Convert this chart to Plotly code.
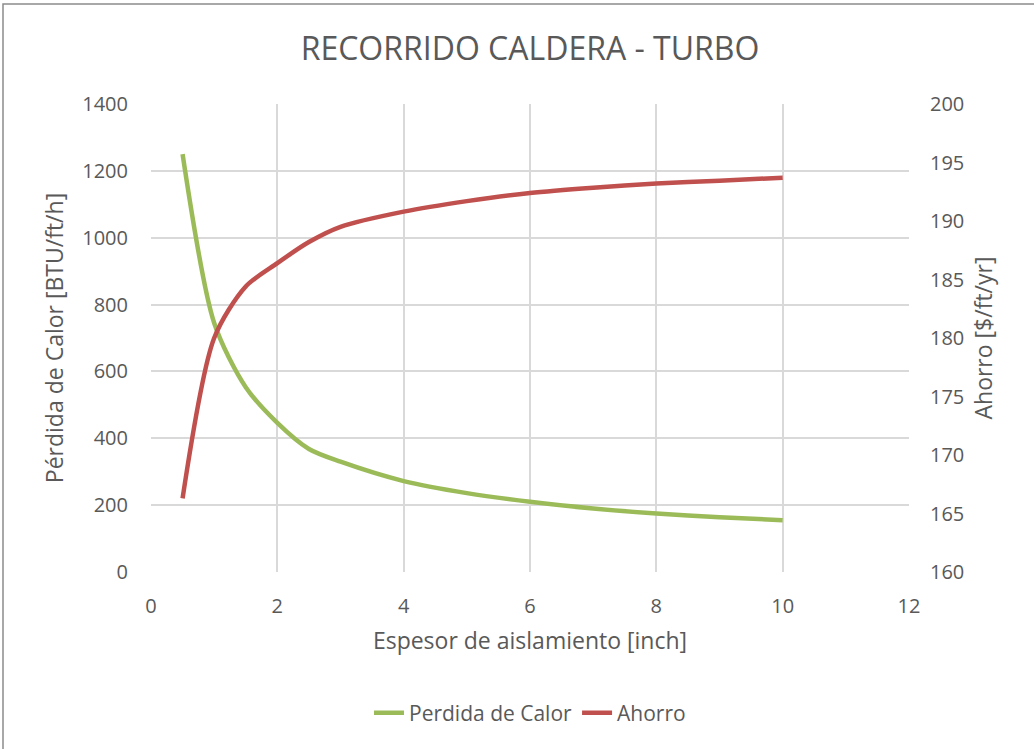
import plotly.graph_objects as go

# Insulation thickness [inch]
espesor = [0.5, 1.0, 1.5, 2.0, 2.5, 3.0, 4.0, 5.0, 6.0, 7.0, 8.0, 9.0, 10.0]
# Heat loss [BTU/ft/h]
perdida_calor = [1250, 745, 553, 446, 368, 330, 272, 236, 210, 190, 175, 164, 155]
# Savings [$/ft/yr]
ahorro = [166.3, 180.0, 184.4, 186.4, 188.2, 189.5, 190.8, 191.7, 192.4, 192.85, 193.2, 193.45, 193.7]

FONT = "Open Sans"
TXT = "#595959"
GRID = "#d9d9d9"

fig = go.Figure()
fig.add_trace(go.Scatter(
    x=espesor, y=perdida_calor, name="Perdida de Calor", mode="lines",
    line=dict(color="#9BBB59", width=4.5, shape="spline", smoothing=0.8),
    yaxis="y",
))
fig.add_trace(go.Scatter(
    x=espesor, y=ahorro, name="Ahorro", mode="lines",
    line=dict(color="#C0504D", width=4.5, shape="spline", smoothing=0.8),
    yaxis="y2",
))

W, H = 1034, 749
L, R, T, B = 151, 125, 104, 177
pw, ph = W - L - R, H - T - B

def px_to_paper(xp, yp):
    return (xp - L) / pw, 1 - (yp - T) / ph

x0, y0 = px_to_paper(3, 4)
x1, y1 = px_to_paper(1040, 760)

fig.update_layout(
    width=W, height=H,
    margin=dict(l=L, r=R, t=T, b=B),
    paper_bgcolor="white", plot_bgcolor="white",
    font=dict(family=FONT, color=TXT, size=20),
    title=dict(text="RECORRIDO CALDERA - TURBO", x=0.5, xref="paper", xanchor="center",
               y=1 - 49 / H, yanchor="middle",
               font=dict(family=FONT, size=32, color=TXT)),
    xaxis=dict(range=[0, 12], dtick=2, showgrid=True, gridcolor=GRID, gridwidth=2,
               zeroline=False, showline=False, ticks="", ticklabelstandoff=20,
               tickfont=dict(size=20, color=TXT),
               title=dict(text="Espesor de aislamiento [inch]", standoff=14,
                          font=dict(size=23, color=TXT))),
    yaxis=dict(range=[0, 1400], dtick=200, showgrid=True, gridcolor=GRID, gridwidth=2,
               zeroline=False, showline=False, ticks="", ticklabelstandoff=22,
               tickfont=dict(size=20, color=TXT),
               title=dict(text="Pérdida de Calor [BTU/ft/h]", standoff=12,
                          font=dict(size=23, color=TXT))),
    yaxis2=dict(range=[160, 200], dtick=5, overlaying="y", side="right",
                showgrid=False, zeroline=False, showline=False, ticks="",
                ticklabelstandoff=20, tickfont=dict(size=20, color=TXT),
                title=dict(text="Ahorro [$/ft/yr]", standoff=12,
                           font=dict(size=23, color=TXT))),
    legend=dict(orientation="h", x=0.5, xanchor="center", y=px_to_paper(0, 713)[1],
                yanchor="middle", font=dict(size=21, color=TXT), bgcolor="rgba(0,0,0,0)"),
    shapes=[dict(type="rect", xref="paper", yref="paper", x0=x0, y0=y1, x1=x1, y1=y0,
                 line=dict(color="#8c8c8c", width=1.5), fillcolor="rgba(0,0,0,0)",
                 layer="below")],
)

fig.write_html("out.html")
